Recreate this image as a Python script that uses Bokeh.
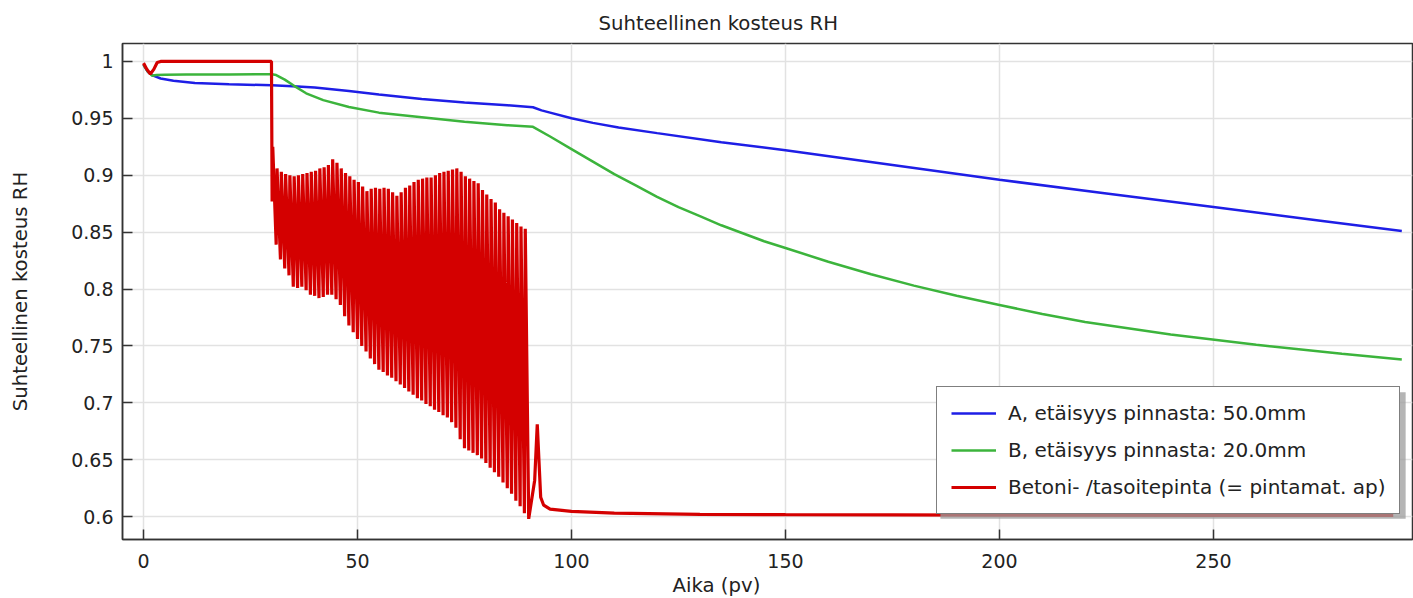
from bokeh.plotting import figure
from bokeh.models import (Range1d, FixedTicker, CustomJSTickFormatter, Title,
                          Legend, LegendItem, BoxAnnotation)
from bokeh.embed import file_html
from bokeh.resources import INLINE

# ---------------- data ----------------
blue_t = [0, 1, 2, 4, 7, 12, 20, 30, 36, 40, 48, 55, 65, 75, 85, 91, 93, 95, 100, 105,
          111, 120, 135, 150, 175, 200, 225, 250, 275, 294]
blue_v = [0.997, 0.991, 0.988, 0.985, 0.983, 0.981, 0.980, 0.979, 0.978, 0.977, 0.974,
          0.971, 0.967, 0.964, 0.9615, 0.9597, 0.957, 0.955, 0.950, 0.946, 0.942, 0.937,
          0.929, 0.922, 0.909, 0.896, 0.884, 0.872, 0.860, 0.851]

green_t = [0, 1, 2, 3, 5, 10, 20, 30, 31, 33, 35, 38, 42, 48, 55, 65, 75, 85, 91, 95,
           100, 105, 110, 115, 120, 125, 130, 135, 140, 145, 150, 160, 170, 180, 190,
           200, 210, 220, 240, 260, 280, 294]
green_v = [0.997, 0.991, 0.9875, 0.988, 0.9883, 0.9885, 0.9886, 0.9887, 0.988, 0.984,
           0.979, 0.972, 0.966, 0.960, 0.955, 0.951, 0.947, 0.944, 0.9425, 0.934,
           0.923, 0.912, 0.901, 0.891, 0.881, 0.872, 0.864, 0.856, 0.849, 0.842,
           0.836, 0.824, 0.813, 0.803, 0.794, 0.786, 0.778, 0.771, 0.760, 0.751,
           0.743, 0.738]

# red: start, plateau at 1.0, daily cycles (peak / trough per day), tail
red_start_t = [0, 0.8, 1.6, 2.4, 3.2, 4.0, 29.9, 30.05]
red_start_v = [0.9985, 0.993, 0.989, 0.993, 0.999, 1.0, 1.0, 0.877]
cycle_days = list(range(30, 90))
cycle_peak_v = [0.925, 0.906, 0.903, 0.901, 0.900, 0.899, 0.900, 0.901, 0.902, 0.903,
                0.904, 0.906, 0.907, 0.909, 0.914, 0.911, 0.906, 0.902, 0.899, 0.896,
                0.894, 0.890, 0.886, 0.888, 0.889, 0.888, 0.889, 0.888, 0.885, 0.882,
                0.885, 0.889, 0.891, 0.894, 0.896, 0.897, 0.898, 0.898, 0.900, 0.902,
                0.903, 0.904, 0.905, 0.906, 0.903, 0.899, 0.897, 0.895, 0.893, 0.887,
                0.883, 0.879, 0.876, 0.870, 0.867, 0.864, 0.861, 0.858, 0.855, 0.853]
cycle_trough_v = [0.839, 0.826, 0.818, 0.812, 0.802, 0.801, 0.802, 0.799, 0.795, 0.794,
                  0.792, 0.793, 0.795, 0.795, 0.791, 0.786, 0.776, 0.768, 0.762, 0.756,
                  0.750, 0.745, 0.739, 0.734, 0.729, 0.727, 0.724, 0.722, 0.719, 0.716,
                  0.713, 0.710, 0.707, 0.704, 0.702, 0.699, 0.697, 0.694, 0.692, 0.689,
                  0.687, 0.683, 0.678, 0.668, 0.660, 0.658, 0.656, 0.654, 0.651, 0.647,
                  0.643, 0.639, 0.635, 0.630, 0.625, 0.620, 0.614, 0.609, 0.603, 0.598]
red_tail_t = [91.4, 92.0, 92.8, 93.5, 95, 100, 110, 130, 150, 200, 250, 292]
red_tail_v = [0.632, 0.681, 0.617, 0.610, 0.6065, 0.6045, 0.603, 0.602, 0.6017,
              0.6013, 0.601, 0.601]

x_ticks = [0, 50, 100, 150, 200, 250]
x_tick_labels = ["0", "50", "100", "150", "200", "250"]
y_ticks = [0.6, 0.65, 0.7, 0.75, 0.8, 0.85, 0.9, 0.95, 1.0]
y_tick_labels = ["0.6", "0.65", "0.7", "0.75", "0.8", "0.85", "0.9", "0.95", "1"]

series_labels = ["A, etäisyys pinnasta: 50.0mm",
                 "B, etäisyys pinnasta: 20.0mm",
                 "Betoni- /tasoitepinta (= pintamat. ap)"]

red_t = list(red_start_t)
red_v = list(red_start_v)
for d, pk, tr in zip(cycle_days, cycle_peak_v, cycle_trough_v):
    red_t += [d + 0.2, d + 1.0]
    red_v += [pk, tr]
red_t += red_tail_t
red_v += red_tail_v

# ---------------- style ----------------
FONT = "DejaVu Sans"
FS = "19px"
FS_T = "19.7px"
TXT = "#222222"
AX = "#333333"

p = figure(width=1413, height=598, output_backend="svg", toolbar_location=None,
           x_range=Range1d(-4.907, 296.5), y_range=Range1d(0.57986, 1.01576),
           min_border_left=122, min_border_right=1, min_border_top=41,
           min_border_bottom=59, y_axis_label="Suhteellinen kosteus RH")
p.background_fill_color = "white"
p.border_fill_color = "white"
p.outline_line_color = AX
p.outline_line_width = 1.5

p.title.text = "Suhteellinen kosteus RH"
p.title.align = "left"
p.title.offset = 476
p.title.text_font = FONT
p.title.text_font_size = FS_T
p.title.text_font_style = "normal"
p.title.text_color = TXT
p.title.standoff = 18


def fmt(tick_vals, tick_labels):
    return CustomJSTickFormatter(args=dict(tv=tick_vals, tl=tick_labels), code="""
        for (let i = 0; i < tv.length; i++) {
            if (Math.abs(tv[i] - tick) < 1e-9) { return tl[i]; }
        }
        return '';
    """)


def style_axis(ax, tick_vals, tick_labels):
    ax.ticker = FixedTicker(ticks=tick_vals)
    ax.formatter = fmt(tick_vals, tick_labels)
    ax.major_tick_in = 10
    ax.major_tick_out = 0
    ax.minor_tick_line_color = None
    ax.axis_line_color = AX
    ax.axis_line_width = 1.5
    ax.major_tick_line_color = AX
    ax.major_tick_line_width = 1.5
    ax.major_label_text_font = FONT
    ax.major_label_text_font_size = FS
    ax.major_label_text_color = TXT
    ax.axis_label_text_font = FONT
    ax.axis_label_text_font_size = FS_T
    ax.axis_label_text_font_style = "normal"
    ax.axis_label_text_color = TXT


xa = p.xaxis[0]
ya = p.yaxis[0]
style_axis(xa, x_ticks, x_tick_labels)
style_axis(ya, y_ticks, y_tick_labels)
xa.major_label_standoff = 14
ya.major_label_standoff = 9
ya.axis_label_standoff = 36

xlabel = Title(text="Aika (pv)", align="left", offset=550, text_font=FONT,
               text_font_size=FS_T, text_font_style="normal", text_color=TXT,
               standoff=3)
p.add_layout(xlabel, "below")

p.xgrid.ticker = FixedTicker(ticks=x_ticks)
p.ygrid.ticker = FixedTicker(ticks=y_ticks)
for g in (p.xgrid[0], p.ygrid[0]):
    g.grid_line_color = "#e2e2e2"
    g.grid_line_width = 1.5

r_blue = p.line(blue_t, blue_v, line_color="#1e1ee6", line_width=2.5)
r_green = p.line(green_t, green_v, line_color="#3cb43c", line_width=2.5)
r_red = p.line(red_t, red_v, line_color="#d40000", line_width=3.2)

shadow = BoxAnnotation(left=186.2, right=294.9, top=0.7093, bottom=0.598,
                       fill_color="#9c9c9c", fill_alpha=0.75, line_alpha=0)
p.add_layout(shadow)

legend = Legend(items=[LegendItem(label=series_labels[0], renderers=[r_blue]),
                       LegendItem(label=series_labels[1], renderers=[r_green]),
                       LegendItem(label=series_labels[2], renderers=[r_red])],
                location=(814, 25))
legend.border_line_color = "black"
legend.border_line_width = 1.5
legend.background_fill_color = "white"
legend.background_fill_alpha = 1.0
legend.label_text_font = FONT
legend.label_text_font_size = "20px"
legend.label_text_color = TXT
legend.glyph_width = 45
legend.glyph_height = 24
legend.label_height = 24
legend.spacing = 13
legend.padding = 14
legend.label_standoff = 12
legend.margin = 0
p.add_layout(legend)

open("out.html", "w").write(file_html(p, INLINE))
